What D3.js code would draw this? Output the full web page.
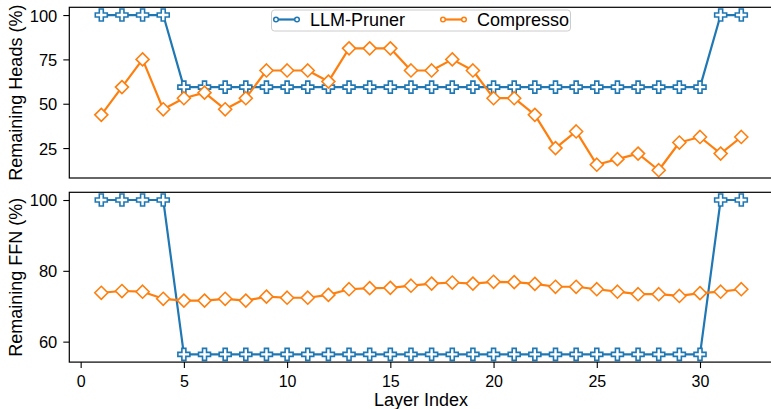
<!DOCTYPE html>
<html><head><meta charset="utf-8">
<script src="https://cdn.jsdelivr.net/npm/d3@7"></script>
<style>
body{margin:0;background:#fff;}
svg text{font-family:"Liberation Sans",Arial,sans-serif;fill:#000;}
</style></head>
<body><svg id="c" width="771" height="409"></svg>
<script>
const layers = d3.range(1, 33);
const seriesNames = ["LLM-Pruner", "Compresso"];
const headsLLMPruner = [100,100,100,100,59.375,59.375,59.375,59.375,59.375,59.375,59.375,59.375,59.375,59.375,59.375,59.375,59.375,59.375,59.375,59.375,59.375,59.375,59.375,59.375,59.375,59.375,59.375,59.375,59.375,59.375,100,100];
const headsCompresso = [43.75,59.375,75,46.875,53.125,56.25,46.875,53.125,68.75,68.75,68.75,62.5,81.25,81.25,81.25,68.75,68.75,75,68.75,53.125,53.125,43.75,25,34.375,15.625,18.75,21.875,12.5,28.125,31.25,21.875,31.25];
const ffnLLMPruner = [100,100,100,100,56.4,56.4,56.4,56.4,56.4,56.4,56.4,56.4,56.4,56.4,56.4,56.4,56.4,56.4,56.4,56.4,56.4,56.4,56.4,56.4,56.4,56.4,56.4,56.4,56.4,56.4,100,100];
const ffnCompresso = [73.8,74.3,74.1,72.1,71.6,71.6,72.1,71.6,72.7,72.4,72.4,73.2,74.8,75.1,75.2,75.8,76.4,76.7,76.4,76.9,76.8,76.3,75.5,75.5,74.8,74.1,73.4,73.4,72.9,73.7,74.1,74.8];
const xTicks = [0,5,10,15,20,25,30];
const headTicks = [25,50,75,100];
const ffnTicks = [60,80,100];

const colors = ["#1f77b4", "#ff7f0e"];
const svg = d3.select("#c");
const x = d3.scaleLinear().domain([-0.55, 33.55]).range([69.3, 773.3]);

function pad(lo, hi){ const r = hi - lo; return [lo - 0.05*r, hi + 0.05*r]; }

const panels = [
  {top:7.3, bottom:178, data:[headsLLMPruner, headsCompresso], ticks:headTicks, label:"Remaining Heads (%)"},
  {top:192.3, bottom:362.1, data:[ffnLLMPruner, ffnCompresso], ticks:ffnTicks, label:"Remaining FFN (%)"}
];

const plusPath = (s) => {
  const a = s/2, b = s/6;
  return `M${-b},${-a}H${b}V${-b}H${a}V${b}H${b}V${a}H${-b}V${b}H${-a}V${-b}H${-b}Z`;
};
const diamondPath = (s) => { const a = s/2; return `M0,${-a}L${a},0L0,${a}L${-a},0Z`; };

panels.forEach((p, pi) => {
  const all = p.data.flat();
  const y = d3.scaleLinear().domain(pad(d3.min(all), d3.max(all))).range([p.bottom, p.top]);
  const g = svg.append("g");
  const clipId = "clip" + pi;
  svg.append("clipPath").attr("id", clipId).append("rect")
    .attr("x", x.range()[0]).attr("y", p.top - 8).attr("width", x.range()[1] - x.range()[0]).attr("height", p.bottom - p.top + 16);

  const yAxis = d3.axisLeft(y).tickValues(p.ticks).tickSize(6).tickPadding(6).tickFormat(d3.format("d"));
  const ya = g.append("g").attr("transform", `translate(${x.range()[0]},0)`).call(yAxis);
  ya.select(".domain").remove();
  ya.selectAll("line").attr("stroke", "#000").attr("stroke-width", 1.1);
  ya.selectAll("text").style("font-size", "16.5px").attr("dy", "0.36em");

  const xAxis = d3.axisBottom(x).tickValues(xTicks).tickSize(6).tickPadding(8)
    .tickFormat(pi === 1 ? d3.format("d") : () => "");
  const xa = g.append("g").attr("transform", `translate(0,${p.bottom})`).call(xAxis);
  xa.select(".domain").remove();
  xa.selectAll("line").attr("stroke", "#000").attr("stroke-width", 1.1);
  xa.selectAll("text").style("font-size", "16px");
  if (pi === 0) xa.remove();

  const plot = g.append("g").attr("clip-path", `url(#${clipId})`);
  p.data.forEach((vals, si) => {
    const pts = layers.map((l, i) => [l, vals[i]]);
    plot.append("path").datum(pts)
      .attr("fill", "none").attr("stroke", colors[si]).attr("stroke-width", 2.2)
      .attr("stroke-linejoin", "round")
      .attr("d", d3.line().x(d => x(d[0])).y(d => y(d[1])));
    plot.selectAll(null).data(pts).enter().append("path")
      .attr("transform", d => `translate(${x(d[0])},${y(d[1])})`)
      .attr("d", si === 0 ? plusPath(12) : diamondPath(13))
      .attr("fill", "#fff").attr("stroke", colors[si]).attr("stroke-width", 1.6);
  });

  g.append("rect").attr("x", x.range()[0]).attr("y", p.top)
    .attr("width", x.range()[1] - x.range()[0]).attr("height", p.bottom - p.top)
    .attr("fill", "none").attr("stroke", "#000").attr("stroke-width", 1.2);

  g.append("text").attr("transform", `translate(21.5,${(p.top + p.bottom)/2}) rotate(-90)`)
    .attr("text-anchor", "middle").style("font-size", "18px").text(p.label);
});

svg.append("text").attr("x", 421).attr("y", 406).attr("text-anchor", "middle")
  .style("font-size", "18px").text("Layer Index");

const lg = svg.append("g");
lg.append("rect").attr("x", 271.5).attr("y", 10).attr("width", 299).attr("height", 21).attr("rx", 3)
  .attr("fill", "#fff").attr("fill-opacity", 0.8).attr("stroke", "#ccc").attr("stroke-width", 1);
const legendX = [276, 443];
seriesNames.forEach((name, i) => {
  const lx = legendX[i], ly = 19.5;
  lg.append("line").attr("x1", lx).attr("x2", lx + 21).attr("y1", ly).attr("y2", ly)
    .attr("stroke", colors[i]).attr("stroke-width", 2.2);
  [lx, lx + 21].forEach(cx => lg.append("circle").attr("cx", cx).attr("cy", ly).attr("r", 2.3)
    .attr("fill", "#fff").attr("stroke", colors[i]).attr("stroke-width", 1.5));
  lg.append("text").attr("x", lx + 34).attr("y", 26).style("font-size", "18px").text(name);
});
</script></body></html>
